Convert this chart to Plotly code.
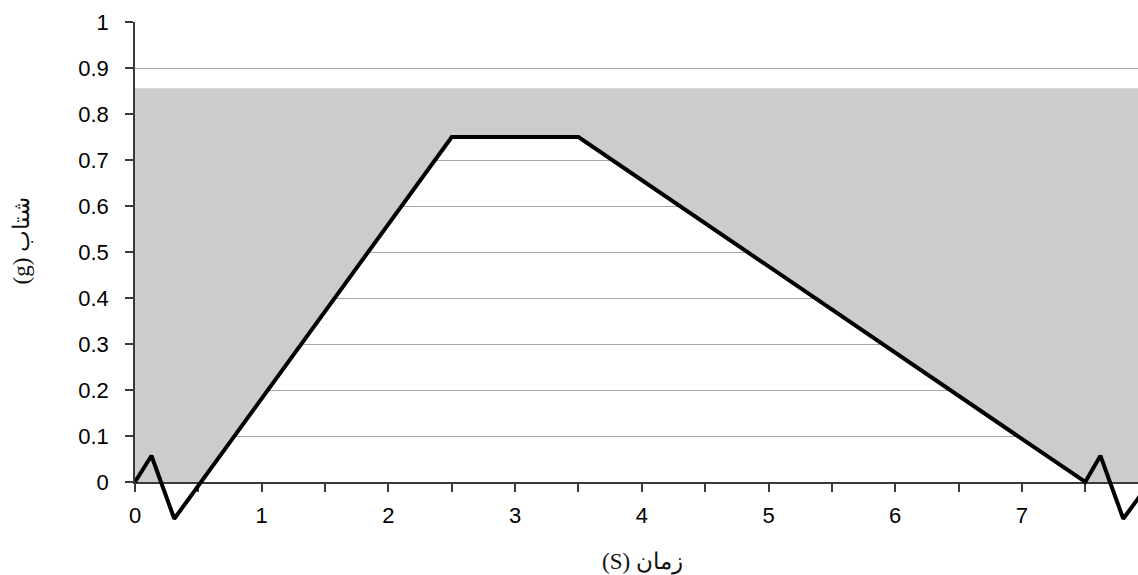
import numpy as np
import plotly.graph_objects as go

# ---- data ----
time_s = [0.0, 0.13, 0.31, 2.5, 3.5, 7.5, 7.62, 7.80, 8.0]
accel_g = [0.0, 0.057, -0.08, 0.75, 0.75, 0.0, 0.057, -0.08, -0.005]
band_top = 0.856          # top of the grey band (g)
x_tick_vals = [0, 0.5, 1, 1.5, 2, 2.5, 3, 3.5, 4, 4.5, 5, 5.5, 6, 6.5, 7, 7.5]
x_tick_text = ["0", "", "1", "", "2", "", "3", "", "4", "", "5", "", "6", "", "7", ""]
y_tick_vals = [0, 0.1, 0.2, 0.3, 0.4, 0.5, 0.6, 0.7, 0.8, 0.9, 1.0]
y_tick_text = ["0", "0.1", "0.2", "0.3", "0.4", "0.5", "0.6", "0.7", "0.8", "0.9", "1"]
x_title = "(S) زمان"
y_title = "(g) شتاب"

# ---- layout geometry ----
W, H = 1138, 575
ML, MR, MT, MB = 135, 0, 22, 45
plot_w = W - ML - MR
plot_h = H - MT - MB
ext_px = 48                       # room below y=0 for the dipping line
main_h = plot_h - ext_px
px_per_s = 126.7
x_range = [0, plot_w / px_per_s]
y_dom0 = ext_px / plot_h
y2_range = [-ext_px / main_h, 1.0]

# grey band polygon: the area above the curve between 0 and band_top
t = np.array(time_s)
a = np.array(accel_g)
x_cross = float(np.interp(0.0, a[2:4], t[2:4]))
poly_x = [t[0], x_cross, t[3], t[4], t[5], t[-1], t[-1], t[0]]
poly_y = [0.0, 0.0, a[3], a[4], a[5], 0.0, band_top, band_top]

fig = go.Figure()
fig.add_trace(go.Scatter(
    x=poly_x, y=poly_y, fill="toself", fillcolor="#cccccc",
    mode="lines", line=dict(width=0, color="#cccccc"),
    hoverinfo="skip", showlegend=False, xaxis="x", yaxis="y"))
fig.add_trace(go.Scatter(
    x=time_s, y=accel_g, mode="lines",
    line=dict(color="#000000", width=4),
    showlegend=False, xaxis="x2", yaxis="y2"))

axis_col = "#3a3a3a"
tick_font = dict(family="Liberation Sans, Arial, sans-serif", size=22, color="#000000")
title_font = dict(family="Liberation Serif, DejaVu Serif, serif", size=23, color="#111111")

fig.update_layout(
    width=W, height=H,
    margin=dict(l=ML, r=MR, t=MT, b=MB, pad=0),
    paper_bgcolor="white", plot_bgcolor="rgba(0,0,0,0)",
    xaxis=dict(domain=[0, 1], range=x_range, anchor="y",
               tickmode="array", tickvals=x_tick_vals, ticktext=x_tick_text,
               ticks="outside", ticklen=8, tickwidth=1.5, tickcolor=axis_col,
               showline=True, linecolor=axis_col, linewidth=1.5,
               showgrid=False, zeroline=False, tickfont=tick_font,
               ticklabelstandoff=5),
    yaxis=dict(domain=[y_dom0, 1], range=[0, 1], anchor="x",
               tickmode="array", tickvals=y_tick_vals, ticktext=y_tick_text,
               ticks="outside", ticklen=8, tickwidth=1.5, tickcolor=axis_col,
               showline=True, linecolor=axis_col, linewidth=1.5,
               showgrid=True, gridcolor="#a6a6a6", gridwidth=1,
               zeroline=False, tickfont=tick_font, ticklabelstandoff=12),
    xaxis2=dict(domain=[0, 1], range=x_range, anchor="y2", visible=False),
    yaxis2=dict(domain=[0, 1], range=y2_range, anchor="x2", visible=False),
    annotations=[
        dict(text=x_title, xref="paper", yref="paper",
             x=(642.5 - ML) / plot_w, y=(MT + plot_h - 562) / plot_h,
             xanchor="center", yanchor="middle", showarrow=False,
             font=title_font),
        dict(text=y_title, xref="paper", yref="paper", textangle=-90,
             x=(20.5 - ML) / plot_w, y=(MT + plot_h - 241) / plot_h,
             xanchor="center", yanchor="middle", showarrow=False,
             font=title_font),
    ],
)

fig.write_html("out.html")
